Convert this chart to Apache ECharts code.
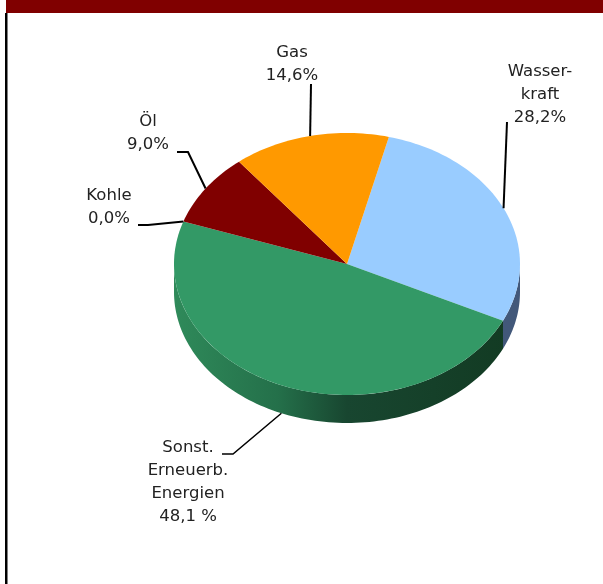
<!DOCTYPE html>
<html>
<head>
<meta charset="utf-8">
<script src="https://cdn.jsdelivr.net/npm/echarts@6/dist/echarts.min.js"></script>
<style>
  html, body { margin: 0; padding: 0; background: #fff; }
  #chart { width: 603px; height: 584px; }
</style>
</head>
<body>
<div id="chart"></div>
<script>
// Slices, clockwise from the top
var categories = ['Wasser-\nkraft', 'Sonst.\nErneuerb.\nEnergien', 'Kohle', 'Öl', 'Gas'];
var shares = [28.2, 48.1, 0.0, 9.0, 14.6];
var shareLabels = ['28,2%', '48,1 %', '0,0%', '9,0%', '14,6%'];

var topColors = ['#99ccff', '#339966', '#666666', '#800000', '#ff9900'];
var sideColors = ['#42587a', null, '#444444', '#4d0000', '#995c00'];

// pie geometry (tilted disc)
var cx = 347, cy = 264, rx = 173, ry = 131, depth = 28;
var startAngle = 76;

// where each label sits (first line centre) and the bend of its leader
var labelLayout = [
  { x: 540, y: 72, bend: [[507, 122]] },
  { x: 188, y: 448, bend: [[222, 454], [233, 454]] },
  { x: 109, y: 196, bend: [[138, 225], [148, 225]] },
  { x: 148, y: 122, bend: [[177, 152], [188, 152]] },
  { x: 292, y: 53, bend: [[311, 84]] }
];
var lineHeight = 23;

var total = shares.reduce(function (a, b) { return a + b; }, 0);

function pt(a, dy) {
  var r = a * Math.PI / 180;
  return [cx + rx * Math.cos(r), cy - ry * Math.sin(r) + (dy || 0)];
}

function arc(a0, a1, dy) {
  var pts = [];
  var n = Math.max(2, Math.ceil(Math.abs(a0 - a1) / 1.5));
  for (var k = 0; k <= n; k++) {
    pts.push(pt(a0 + (a1 - a0) * k / n, dy));
  }
  return pts;
}

var greenSide = new echarts.graphic.LinearGradient(cx - rx, 0, cx + rx, 0, [
  { offset: 0, color: '#2f8a5a' },
  { offset: 0.3, color: '#24704a' },
  { offset: 0.5, color: '#184630' },
  { offset: 1, color: '#123a22' }
], true);

function renderItem(params, api) {
  var i = params.dataIndex;
  var before = 0;
  for (var k = 0; k < i; k++) before += shares[k];
  var a0 = startAngle - before / total * 360;
  var a1 = a0 - api.value(0) / total * 360;
  var children = [];

  if (a0 - a1 > 0.01) {
    // visible front wall
    [-360, 0, 360].forEach(function (off) {
      var lo = Math.max(a1, -180 + off);
      var hi = Math.min(a0, off);
      if (hi > lo) {
        children.push({
          type: 'polygon',
          shape: { points: arc(hi, lo, 0).concat(arc(lo, hi, depth)) },
          style: { fill: sideColors[i] || greenSide }
        });
      }
    });
    children.push({
      type: 'polygon',
      shape: { points: [[cx, cy]].concat(arc(a0, a1, 0)) },
      style: { fill: topColors[i] }
    });
  }

  // label and leader line
  var mid = (a0 + a1) / 2;
  var s = Math.sin(mid * Math.PI / 180);
  var anchor = pt(mid, s < 0 ? depth : 0);
  var lay = labelLayout[i];
  children.push({
    type: 'polyline',
    shape: { points: lay.bend.concat([anchor]) },
    style: { stroke: '#000', lineWidth: i === 1 ? 1.5 : 2, fill: null }
  });
  children.push({
    type: 'text',
    style: {
      text: categories[i] + '\n' + shareLabels[i],
      x: lay.x,
      y: lay.y - lineHeight / 2,
      align: 'center',
      verticalAlign: 'top',
      lineHeight: lineHeight,
      font: '16.5px "DejaVu Sans"',
      fill: '#222'
    }
  });

  return { type: 'group', children: children };
}

var myChart = echarts.init(document.getElementById('chart'));

var option = {
  animation: false,
  graphic: [
    { type: 'rect', shape: { x: 6, y: 0, width: 597, height: 13 }, style: { fill: '#800000' } },
    { type: 'rect', shape: { x: 5, y: 13, width: 2.5, height: 571 }, style: { fill: '#000' } }
  ],
  series: [
    {
      type: 'custom',
      coordinateSystem: 'none',
      silent: true,
      renderItem: renderItem,
      data: shares.map(function (v) { return [v]; })
    }
  ]
};

myChart.setOption(option);
</script>
</body>
</html>
